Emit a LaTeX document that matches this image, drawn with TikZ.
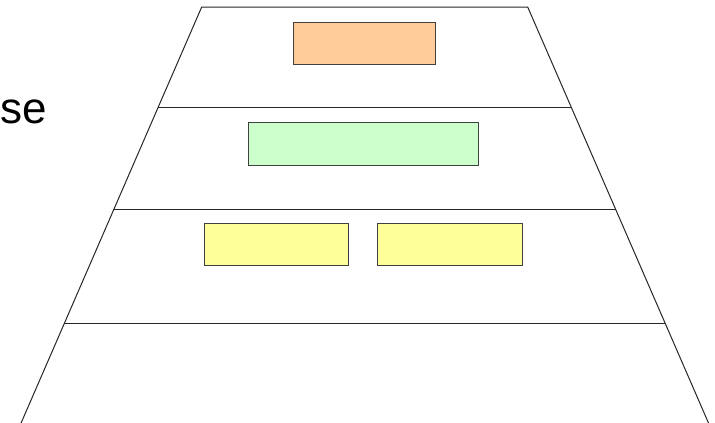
\documentclass[tikz,border=0pt]{standalone}
\usepackage{fontspec}
\setmainfont{Liberation Sans}
\usetikzlibrary{calc}
\definecolor{orangebox}{HTML}{FFCC99}
\definecolor{greenbox}{HTML}{CCFFCC}
\definecolor{yellowbox}{HTML}{FFFF99}
\tikzset{
  edge/.style={draw=black!85, line width=1pt},
  levelbox/.style={draw=black!75, line width=1pt, rectangle, inner sep=0pt, minimum height=42.5pt},
}
\begin{document}
\begin{tikzpicture}[x=1pt,y=-1pt]
\useasboundingbox (0,0) rectangle (715,423);
\begin{scope}
\clip (0,0) rectangle (715,423);
\coordinate (TL) at (201.7,7);
\coordinate (TR) at (527.7,7);
\coordinate (BL) at (21.1,423);
\coordinate (BR) at (708.5,423);
\draw[edge] (BL) -- (TL) -- (TR) -- (BR);
\coordinate (L1) at ($(TL)!0.2416!(BL)$);
\coordinate (R1) at ($(TR)!0.2416!(BR)$);
\coordinate (L2) at ($(TL)!0.4856!(BL)$);
\coordinate (R2) at ($(TR)!0.4856!(BR)$);
\coordinate (L3) at ($(TL)!0.7603!(BL)$);
\coordinate (R3) at ($(TR)!0.7603!(BR)$);
\draw[edge] (L1) -- (R1);
\draw[edge] (L2) -- (R2);
\draw[edge] (L3) -- (R3);
\end{scope}
\node[levelbox, fill=orangebox, minimum width=142pt] (top) at (364.3,43.5) {};
\node[levelbox, fill=greenbox, minimum width=230pt] (mid) at (363,144) {};
\node[levelbox, fill=yellowbox, minimum width=144.5pt] (yl) at (276.5,244.7) {};
\node[levelbox, fill=yellowbox, minimum width=144.5pt] (yr) at (449.8,244.7) {};
\node[anchor=base east, inner sep=0pt, font=\fontsize{44}{48}\selectfont] (lbl) at (46.7,123.3) {se};
\end{tikzpicture}
\end{document}
